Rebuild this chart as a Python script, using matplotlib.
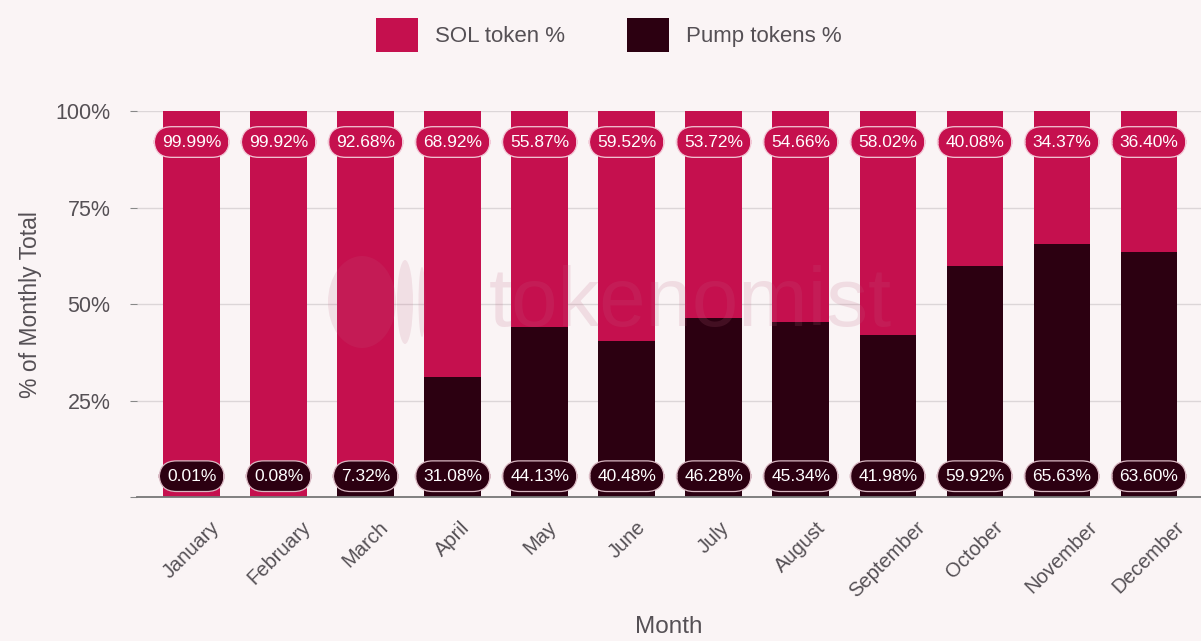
import matplotlib.pyplot as plt
from matplotlib.patches import Ellipse
import numpy as np

months = ['January', 'February', 'March', 'April', 'May', 'June', 'July',
          'August', 'September', 'October', 'November', 'December']
sol_pct = [99.99, 99.92, 92.68, 68.92, 55.87, 59.52, 53.72, 54.66, 58.02, 40.08, 34.37, 36.40]
pump_pct = [0.01, 0.08, 7.32, 31.08, 44.13, 40.48, 46.28, 45.34, 41.98, 59.92, 65.63, 63.60]
y_ticks = [0, 25, 50, 75, 100]

SOL_COLOR = '#c5104e'
PUMP_COLOR = '#2c0011'
BG = '#faf4f5'
TEXT = '#555055'

plt.rcParams['font.family'] = ['Liberation Sans', 'DejaVu Sans']

fig = plt.figure(figsize=(12.01, 6.41), dpi=100, facecolor=BG)
ax = fig.add_axes([0.114, 0.2246, 0.886, 0.602])
ax.set_facecolor(BG)

x = np.arange(len(months))
width = 0.65
ax.bar(x, pump_pct, width, color=PUMP_COLOR, label='Pump tokens %', zorder=2)
ax.bar(x, sol_pct, width, bottom=pump_pct, color=SOL_COLOR, label='SOL token %', zorder=2)

# pill labels at fixed heights near top and bottom
for xi, s, p in zip(x, sol_pct, pump_pct):
    ax.text(xi, 92, f'{s:.2f}%', ha='center', va='center', color='white',
            fontsize=12.5, fontweight='medium', zorder=5,
            bbox=dict(boxstyle='round,pad=0.45,rounding_size=1.0', fc=SOL_COLOR,
                      ec='#f2c8d6', lw=0.9))
    ax.text(xi, 5.4, f'{p:.2f}%', ha='center', va='center', color='white',
            fontsize=12.5, fontweight='medium', zorder=5,
            bbox=dict(boxstyle='round,pad=0.45,rounding_size=1.0', fc=PUMP_COLOR,
                      ec='#d9b8c2', lw=0.9))

ax.set_xlim(-0.63, 11.6)
ax.set_ylim(0, 100)
ax.set_yticks(y_ticks)
ax.set_yticklabels(['' if t == 0 else f'{t}%' for t in y_ticks])
ax.set_xticks(x)
ax.set_xticklabels(months, rotation=45)
ax.tick_params(axis='x', length=0, pad=15, labelsize=14.5, labelcolor=TEXT)
ax.tick_params(axis='y', length=5, color='#888888', pad=14, labelsize=15.5, labelcolor=TEXT)
ax.grid(axis='y', color='#dcd6d8', lw=1)
ax.set_axisbelow(True)
for side in ['top', 'right', 'left']:
    ax.spines[side].set_visible(False)
ax.spines['bottom'].set_color('#777777')
ax.spines['bottom'].set_linewidth(1.3)

ax.set_ylabel('% of Monthly Total', fontsize=16.5, color=TEXT, labelpad=10)
ax.set_xlabel('Month', fontsize=17.5, color=TEXT, labelpad=11)

# faint watermark
fig.text(0.575, 0.525, 'tokenomist', ha='center', va='center', fontsize=60,
         color='#c06080', alpha=0.16, zorder=10)
for cx, w, h in [(362, 68, 92), (405, 16, 84), (422, 7, 70)]:
    fig.patches.append(Ellipse((cx / 1201, 1 - 302 / 641), w / 1201, h / 641,
                               transform=fig.transFigure, fc='#c06080', ec='none',
                               alpha=0.14, zorder=10))

handles, labels = ax.get_legend_handles_labels()
fig.legend(handles[::-1], labels[::-1], loc='upper center', bbox_to_anchor=(0.507, 1.003),
           ncol=2, frameon=False, fontsize=16, labelcolor=TEXT, handlelength=1.9,
           handleheight=2.0, handletextpad=0.75, columnspacing=2.8)

fig.savefig('out.png', dpi=100, facecolor=BG)
